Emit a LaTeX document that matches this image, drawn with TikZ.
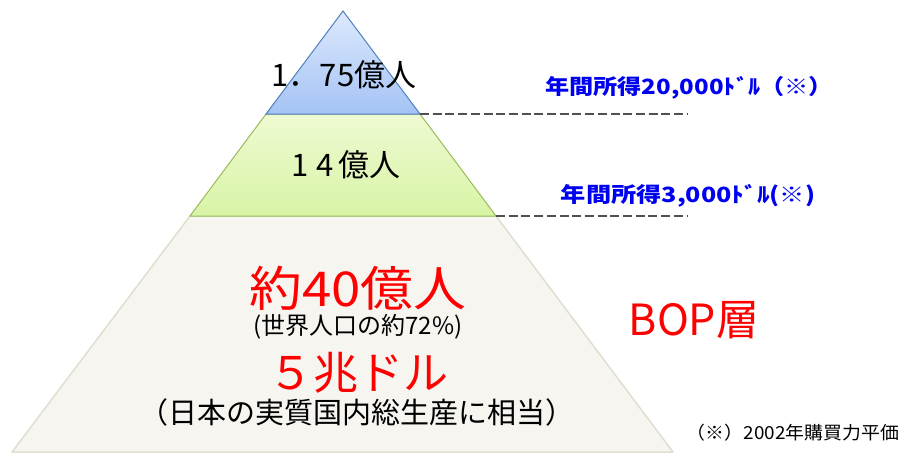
\documentclass[tikz,border=0pt]{standalone}
\usepackage{fontspec}
\usepackage{graphicx}
\setmainfont{Noto Sans CJK JP}
\newfontfamily\jp{Noto Sans CJK JP}
\newcommand\hsx[2]{\scalebox{#1}[1]{#2}}
\definecolor{bopfill}{HTML}{F6F5F0}
\definecolor{bopline}{HTML}{E0DECE}
\definecolor{midtop}{HTML}{EEFAD2}
\definecolor{midbot}{HTML}{D8F4A6}
\definecolor{midline}{HTML}{9BBB59}
\definecolor{toptop}{HTML}{DDE9FC}
\definecolor{topbot}{HTML}{A4C3F5}
\definecolor{topline}{HTML}{4F81BD}
\definecolor{dashgray}{HTML}{505050}
\definecolor{incblue}{HTML}{0000F0}
\definecolor{bigred}{HTML}{FF0000}
\tikzset{
  dashline/.style={draw=dashgray, line width=2.4pt, dash pattern=on 9pt off 3.7pt},
  bandtext/.style={font=\jp\fontsize{31}{31}\selectfont, text=black, inner sep=0pt},
  inctext/.style={font=\jp\bfseries\fontsize{21}{21}\selectfont, text=incblue, inner sep=0pt},
  redtext/.style={font=\jp\fontsize{48}{48}\selectfont, text=bigred, inner sep=0pt},
  subtext/.style={font=\jp\fontsize{24}{24}\selectfont, text=black, inner sep=0pt},
  notetext/.style={font=\jp\fontsize{18}{18}\selectfont, text=black, inner sep=0pt}
}
\begin{document}
\begin{tikzpicture}[x=1pt,y=-1pt]
\useasboundingbox (0,0) rectangle (899,455);
\coordinate (apex) at (343,11);
\coordinate (t1l) at (266,114);
\coordinate (t1r) at (420,114);
\coordinate (t2l) at (190,216);
\coordinate (t2r) at (496,216);
\coordinate (bl) at (12,452);
\coordinate (br) at (673,452);
\coordinate (d1) at (688,114);
\coordinate (d2) at (688,216);
% bottom band
\path[fill=bopfill, draw=bopline, line width=1.5pt, line join=round] (t2l) -- (t2r) -- (br) -- (bl) -- cycle;
% middle band
\path[top color=midtop, bottom color=midbot, draw=midline, line width=1pt] (t1l) -- (t1r) -- (t2r) -- (t2l) -- cycle;
% top band
\path[top color=toptop, bottom color=topbot, draw=topline, line width=1pt] (apex) -- (t1r) -- (t1l) -- cycle;
% dashed lines
\draw[dashline] (t1r) -- (d1);
\draw[dashline] (t2r) -- (d2);
% texts
\node[bandtext] (top) at (344,75) {1．75億人};
\node[bandtext] (mid) at (346,165) {1\kern8pt 4\kern5pt 億人};
\node[inctext] (inc1) at (689,88) {\hsx{1.15}{年間所得20,000ﾄﾞﾙ（※）}};
\node[inctext] (inc2) at (688,196) {\hsx{1.2}{年間所得3,000ﾄﾞﾙ(※)}};
\node[redtext] (pop) at (358,288) {\hsx{1.1}{約40億人}};
\node[subtext] (share) at (358,327) {(世界人口の約72\%)};
\node[redtext, font=\jp\fontsize{45}{45}\selectfont] (gdp) at (358,373) {５兆ドル};
\node[subtext, font=\jp\fontsize{29}{29}\selectfont] (gdpnote) at (357,412) {（日本の実質国内総生産に相当）};
\node[redtext, font=\jp\fontsize{43}{43}\selectfont] (bop) at (694,320) {BOP層};
\node[notetext] (note) at (793,433) {\hsx{1.05}{（※）2002年購買力平価}};
\end{tikzpicture}
\end{document}
